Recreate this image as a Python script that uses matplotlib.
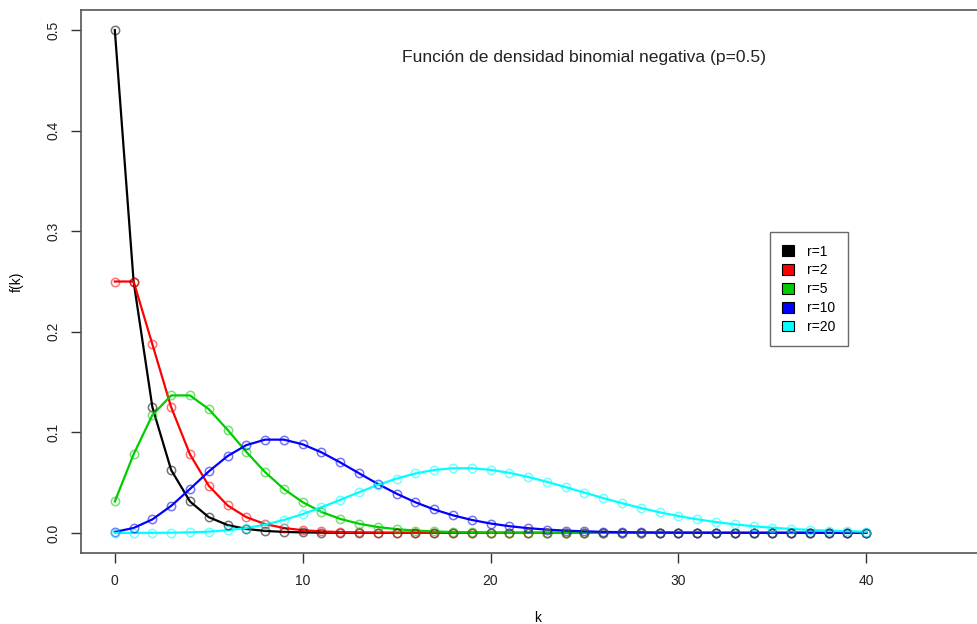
import matplotlib
matplotlib.use("Agg")
import matplotlib.pyplot as plt
from matplotlib.patches import Patch

plt.rcParams['font.family'] = ['Liberation Sans', 'DejaVu Sans']

k = list(range(41))

r1 = [0.5, 0.25, 0.125, 0.0625, 0.03125, 0.015625, 0.007813, 0.003906, 0.001953,
      0.000977, 0.000488, 0.000244, 0.000122, 0.000061, 0.000031, 0.000015,
      0.000008, 0.000004, 0.000002, 0.000001] + [0.0] * 21

r2 = [0.25, 0.25, 0.1875, 0.125, 0.078125, 0.046875, 0.027344, 0.015625, 0.008789,
      0.004883, 0.002686, 0.001465, 0.000793, 0.000427, 0.000229, 0.000122,
      0.000065, 0.000034, 0.000018, 0.000010, 0.000005, 0.000003, 0.000001] + [0.0] * 18

r5 = [0.03125, 0.078125, 0.117188, 0.136719, 0.136719, 0.123047, 0.102539, 0.080566,
      0.060425, 0.043640, 0.030548, 0.020828, 0.013885, 0.009079, 0.005836, 0.003696,
      0.002310, 0.001427, 0.000872, 0.000528, 0.000317, 0.000188, 0.000111, 0.000065,
      0.000038, 0.000022, 0.000013, 0.000007, 0.000004, 0.000002, 0.000001,
      0.000001] + [0.0] * 9

r10 = [0.000977, 0.004883, 0.013428, 0.026855, 0.043640, 0.061096, 0.076370, 0.087280,
       0.092735, 0.092735, 0.088099, 0.080090, 0.070079, 0.059297, 0.048708, 0.038967,
       0.030442, 0.023280, 0.017460, 0.012865, 0.009327, 0.006662, 0.004694, 0.003265,
       0.002245, 0.001527, 0.001028, 0.000685, 0.000453, 0.000297, 0.000193, 0.000121,
       0.000076, 0.000047, 0.000029, 0.000018, 0.000011, 0.000007, 0.000004, 0.000002,
       0.000002]

r20 = [0.000001, 0.000010, 0.000050, 0.000184, 0.000528, 0.001267, 0.002639, 0.004901,
       0.008271, 0.012865, 0.018655, 0.025438, 0.032858, 0.040440, 0.047661, 0.054016,
       0.059080, 0.062556, 0.064293, 0.064293, 0.062686, 0.059701, 0.055631, 0.050793,
       0.045502, 0.040042, 0.034652, 0.029518, 0.024774, 0.020503, 0.016744, 0.013503,
       0.010760, 0.008478, 0.006608, 0.005097, 0.003894, 0.002947, 0.002210, 0.001643,
       0.001212]

series = [r1, r2, r5, r10, r20]
labels = ["r=1", "r=2", "r=5", "r=10", "r=20"]
colors = ["#000000", "#FF0000", "#00CD00", "#0000FF", "#00FFFF"]

W, H = 977, 624
fig = plt.figure(figsize=(W / 100, H / 100), dpi=100)
left, right, top, bottom = 81, 994, 10, 553
ax = fig.add_axes([left / W, 1 - bottom / H, (right - left) / W, (bottom - top) / H])

for y, c in zip(series, colors):
    ax.plot(k, y, color=c, lw=1.6, zorder=2)
    ax.plot(k, y, ls='none', marker='o', ms=6, mfc='none', mec=c,
            mew=1.1, alpha=0.55, zorder=3)

ax.set_xlim(-1.8, 46.8)
ax.set_ylim(-0.02, 0.52)
ax.set_xticks([0, 10, 20, 30, 40])
ax.set_yticks([0.0, 0.1, 0.2, 0.3, 0.4, 0.5])
ax.set_yticklabels(["0.0", "0.1", "0.2", "0.3", "0.4", "0.5"], rotation=90, va='center')
ax.tick_params(direction='out', length=7, width=1, labelsize=10, pad=8,
               color='#333333', labelcolor='#222222')
for s in ax.spines.values():
    s.set_color('#555555')
    s.set_linewidth(1.2)

ax.set_xlabel("k", fontsize=10, labelpad=17)
ax.set_ylabel("f(k)", fontsize=10, labelpad=16)

ax.text(0.551, 0.912, "Función de densidad binomial negativa (p=0.5)",
        transform=ax.transAxes, ha='center', va='center', fontsize=12.6, color='#222222')

handles = [Patch(facecolor=c, edgecolor='black', lw=0.8) for c in colors]
leg = ax.legend(handles, labels, loc='upper left',
                bbox_to_anchor=((770 - left) / (right - left), 1 - (232 - top) / (bottom - top)),
                fontsize=10, frameon=True, fancybox=False, edgecolor='#444444',
                handlelength=0.8, handleheight=0.8, handletextpad=1.0,
                labelspacing=0.35, borderpad=0.9, borderaxespad=0)
leg.get_frame().set_linewidth(1.0)

fig.savefig("out.png", dpi=100)
